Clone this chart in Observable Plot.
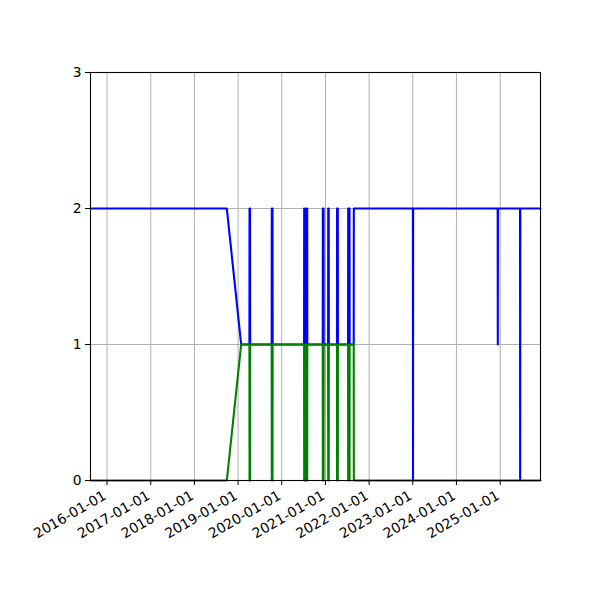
<!DOCTYPE html>
<html>
<head>
<meta charset="utf-8">
<script src="https://cdn.jsdelivr.net/npm/d3@7"></script>
<script src="https://cdn.jsdelivr.net/npm/@observablehq/plot@0.6"></script>
<style>
  html, body { margin: 0; padding: 0; background: #fff; }
  #chart { width: 600px; height: 600px; }
</style>
</head>
<body>
<div id="chart"></div>
<script>
// Sample dates shared by both series
const dates = [
  "2015-08-16", "2018-09-29", "2019-01-27",
  "2019-04-06", "2019-04-07", "2019-04-11", "2019-04-12",
  "2019-10-09", "2019-10-10", "2019-10-16", "2019-10-17",
  "2020-07-06", "2020-07-07", "2020-07-13", "2020-07-19", "2020-07-25", "2020-08-01", "2020-08-02",
  "2020-12-09", "2020-12-10", "2020-12-16", "2020-12-17",
  "2021-01-23", "2021-01-24", "2021-01-28", "2021-01-29",
  "2021-04-07", "2021-04-08", "2021-04-14", "2021-04-15",
  "2021-07-09", "2021-07-10", "2021-07-21", "2021-07-22",
  "2021-08-25", "2021-08-26",
  "2023-01-02", "2023-01-03", "2023-01-04",
  "2024-12-11", "2024-12-12", "2024-12-13",
  "2025-06-16", "2025-06-17", "2025-06-18",
  "2025-12-04"
];
// Blue series values
const blueValues = [
  2, 2, 1,
  1, 2, 2, 1,
  1, 2, 2, 1,
  1, 2, 1, 2, 1, 2, 1,
  1, 2, 2, 1,
  1, 2, 2, 1,
  1, 2, 2, 1,
  1, 2, 2, 1,
  1, 2,
  2, 0, 2,
  2, 1, 2,
  2, 0, 2,
  2
];
// Green series values
const greenValues = [
  0, 0, 1,
  1, 0, 0, 1,
  1, 0, 0, 1,
  1, 0, 1, 0, 1, 0, 1,
  1, 0, 0, 1,
  1, 0, 0, 1,
  1, 0, 0, 1,
  1, 0, 0, 1,
  1, 0,
  0, 0, 0,
  0, 0, 0,
  0, 0, 0,
  0
];
const xTickLabels = ["2016-01-01","2017-01-01","2018-01-01","2019-01-01","2020-01-01",
                     "2021-01-01","2022-01-01","2023-01-01","2024-01-01","2025-01-01"];
const yTicks = [0, 1, 2, 3];
const xDomain = ["2015-08-16", "2025-12-04"];

const parse = d3.utcParse("%Y-%m-%d");
const blueData = dates.map((d, i) => ({date: parse(d), value: blueValues[i]}));
const greenData = dates.map((d, i) => ({date: parse(d), value: greenValues[i]}));
const xTicks = xTickLabels.map(parse);

const font = "DejaVu Sans, sans-serif";

const chart = Plot.plot({
  width: 600,
  height: 600,
  marginLeft: 90,
  marginRight: 60,
  marginTop: 72,
  marginBottom: 120,
  style: {fontFamily: font, fontSize: "13.9px", color: "#000", background: "#fff"},
  x: {type: "utc", domain: xDomain.map(parse)},
  y: {domain: [0, 3]},
  marks: [
    Plot.gridX(xTicks, {stroke: "#b0b0b0", strokeOpacity: 1, strokeWidth: 1}),
    Plot.gridY(yTicks, {stroke: "#b0b0b0", strokeOpacity: 1, strokeWidth: 1}),
    Plot.line(blueData, {x: "date", y: "value", stroke: "#0000ff", strokeWidth: 2.1, curve: "linear"}),
    Plot.line(greenData, {x: "date", y: "value", stroke: "#008000", strokeWidth: 2.1, curve: "linear"}),
    Plot.frame({stroke: "#000", strokeWidth: 1.1}),
    Plot.axisY(yTicks, {tickSize: 5, tickPadding: 4, tickFormat: d => String(d), label: null, fontSize: "13.9px", stroke: "#000"}),
    Plot.axisX(xTicks, {tickSize: 5, tickPadding: 4, tickFormat: d3.utcFormat("%Y-%m-%d"), tickRotate: -30, label: null, fontSize: "13.9px", stroke: "#000"})
  ]
});
// shift rotated x tick labels to match reference placement
chart.querySelectorAll('g[aria-label="x-axis tick label"] text').forEach(t => {
  const tr = t.getAttribute("transform") || "";
  t.setAttribute("transform", tr.replace(/translate\(([^,]+),([^)]+)\)/, (m, a, b) => `translate(${+a - 2},${+b + 5})`));
});
document.getElementById("chart").appendChild(chart);
</script>
</body>
</html>
